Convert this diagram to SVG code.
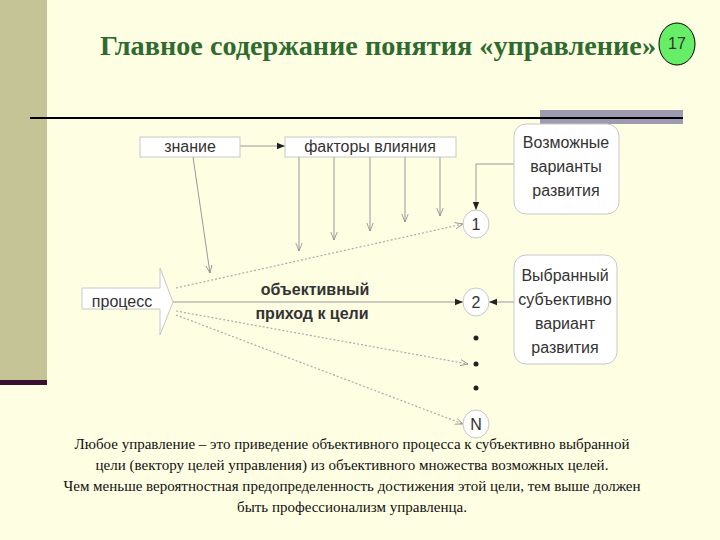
<svg xmlns="http://www.w3.org/2000/svg" width="720" height="540" viewBox="0 0 720 540">
<defs>
<style>
.box{fill:#fff;stroke:#c8c8c8;stroke-width:1}
.t{font-family:"Liberation Sans",Arial,sans-serif;font-size:16px;fill:#333;text-anchor:middle}
.s{font-family:"Liberation Serif","Times New Roman","DejaVu Serif",serif;font-size:15px;fill:#111;text-anchor:middle}
.ttl{font-family:"Liberation Serif","Times New Roman","DejaVu Serif",serif;font-size:27px;font-weight:bold;fill:#2f6b2f}
.ln{stroke:#999;stroke-width:1;fill:none}
.dl{stroke:#aaa;stroke-width:1.2;fill:none;stroke-dasharray:2 2}
</style>
<marker id="ah" viewBox="0 0 10 10" refX="10" refY="5" markerWidth="8" markerHeight="8" orient="auto" markerUnits="userSpaceOnUse"><path d="M0,1 L10,5 L0,9z" fill="#222"/></marker>
<marker id="oa" viewBox="0 0 10 10" refX="10" refY="5" markerWidth="8" markerHeight="8" orient="auto" markerUnits="userSpaceOnUse"><path d="M0,1 L10,5 L0,9" fill="none" stroke="#888"/></marker>
</defs>
<rect width="720" height="540" fill="#fefee3"/>
<rect x="0" y="0" width="47" height="380" fill="#c4c496"/>
<rect x="0" y="380" width="47" height="5" fill="#3a1030"/>
<rect x="540" y="110" width="143" height="14" fill="#9e9ab0"/>
<line x1="30" y1="118" x2="683" y2="118" stroke="#000" stroke-width="2"/>
<text x="100" y="55" class="ttl" textLength="556" lengthAdjust="spacingAndGlyphs">Главное содержание понятия «управление»</text>
<g id="page"><ellipse cx="677" cy="44" rx="18" ry="21" fill="#66ee66" stroke="#000"/><text x="677" y="49" class="t" font-size="14" fill="#000">17</text></g>
<g id="connectors">
<line x1="240" y1="146" x2="285" y2="146" class="ln" marker-end="url(#ah)"/>
<line x1="299" y1="157" x2="299" y2="251" class="ln" marker-end="url(#oa)"/>
<line x1="334" y1="157" x2="334" y2="240" class="ln" marker-end="url(#oa)"/>
<line x1="370" y1="157" x2="370" y2="231" class="ln" marker-end="url(#oa)"/>
<line x1="405" y1="157" x2="405" y2="222" class="ln" marker-end="url(#oa)"/>
<line x1="440" y1="157" x2="440" y2="216" class="ln" marker-end="url(#oa)"/>
<line x1="193" y1="157" x2="210" y2="273" class="ln" marker-end="url(#oa)"/>
<polyline points="514,164 476,164 476,210" class="ln" stroke="#555" marker-end="url(#ah)"/>
<line x1="514" y1="302" x2="489" y2="302" class="ln" stroke="#555" marker-end="url(#ah)"/>
<line x1="173" y1="302" x2="463" y2="302" class="ln" stroke="#777" marker-end="url(#ah)"/>
<line x1="176" y1="288" x2="463" y2="224" class="dl" marker-end="url(#oa)"/>
<line x1="176" y1="311" x2="468" y2="364" class="dl" marker-end="url(#oa)"/>
<line x1="176" y1="315" x2="463" y2="424" class="dl" marker-end="url(#oa)"/>
</g>
<g id="znanie"><rect class="box" x="140" y="137" width="100" height="20"/><text class="t" x="190" y="152">знание</text></g>
<g id="faktory"><rect class="box" x="285" y="137" width="171" height="20"/><text class="t" x="370" y="152">факторы влияния</text></g>
<g id="vozm"><rect class="box" x="514" y="124" width="105" height="90" rx="12"/><text class="t" x="566" y="148">Возможные</text><text class="t" x="566" y="172">варианты</text><text class="t" x="566" y="196">развития</text></g>
<g id="vybr"><rect class="box" x="514" y="255" width="103" height="109" rx="12"/><text class="t" x="565" y="281">Выбранный</text><text class="t" x="565" y="305">субъективно</text><text class="t" x="565" y="329">вариант</text><text class="t" x="565" y="353">развития</text></g>
<g id="process"><path class="box" d="M82,288 H160 V268 L173,302 L160,335 V309 H82Z"/><text class="t" x="122" y="307">процесс</text></g>
<g id="label"><text class="t" x="315" y="295" font-weight="bold" fill="#444">объективный</text><text class="t" x="312" y="319" font-weight="bold" fill="#444">приход к цели</text></g>
<g id="c1"><ellipse class="box" cx="476" cy="224" rx="13" ry="14"/><text class="t" x="476" y="230">1</text></g>
<g id="c2"><ellipse class="box" cx="476" cy="302" rx="13" ry="14"/><text class="t" x="476" y="308">2</text></g>
<g id="cN"><ellipse class="box" cx="476" cy="424" rx="13" ry="14"/><text class="t" x="476" y="430">N</text></g>
<g id="dots" fill="#222"><circle cx="476" cy="338" r="2.5"/><circle cx="476" cy="364" r="2.5"/><circle cx="476" cy="388" r="2.5"/></g>
<g id="caption">
<text class="s" x="352" y="449">Любое управление –  это приведение объективного процесса к субъективно выбранной</text>
<text class="s" x="352" y="470">цели (вектору целей управления) из объективного множества возможных целей.</text>
<text class="s" x="352" y="491">Чем меньше вероятностная предопределенность достижения этой цели, тем выше должен</text>
<text class="s" x="352" y="512">быть профессионализм управленца.</text>
</g>
</svg>
